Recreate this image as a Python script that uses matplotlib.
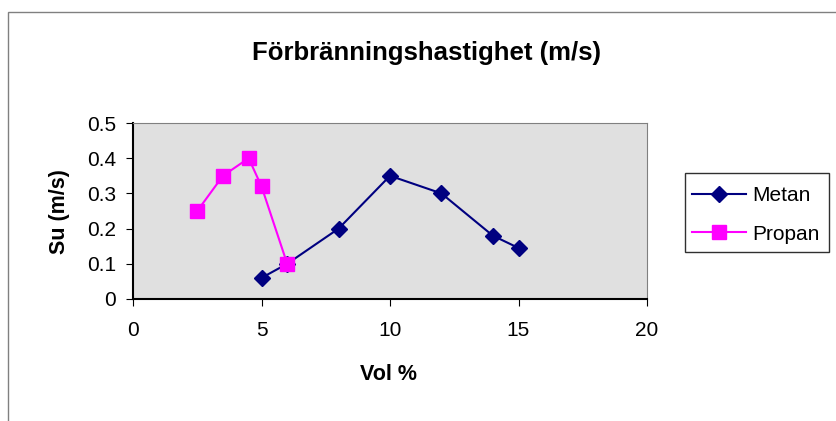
import matplotlib.pyplot as plt
from matplotlib.patches import Rectangle

plt.rcParams['font.family'] = ['Liberation Sans', 'DejaVu Sans']

# data
metan_x = [5, 6, 8, 10, 12, 14, 15]
metan_y = [0.06, 0.10, 0.20, 0.35, 0.30, 0.18, 0.145]
propan_x = [2.5, 3.5, 4.5, 5, 6]
propan_y = [0.25, 0.35, 0.40, 0.32, 0.10]

W, H = 836, 421
fig = plt.figure(figsize=(W / 100, H / 100), dpi=100)

# outer chart border
fig.patches.append(Rectangle((8 / W, -0.01), 1.0, 1 - 12 / H + 0.01, transform=fig.transFigure,
                             fill=False, edgecolor='#808080', linewidth=1.0))
# legend box, drawn by hand so the padding can differ across and down
fig.patches.append(Rectangle((685 / W, 1 - 252 / H), 144 / W, 79 / H, transform=fig.transFigure,
                             fill=False, edgecolor='#303030', linewidth=1.0))

ax = fig.add_axes([133 / W, 1 - 299 / H, (647 - 133) / W, (299 - 123) / H])
ax.set_facecolor('#E0E0E0')

ax.plot(metan_x, metan_y, color='#000080', marker='D', markersize=8, linewidth=1.5, label='Metan')
ax.plot(propan_x, propan_y, color='#FF00FF', marker='s', markersize=9.5, linewidth=1.5, label='Propan')

ax.set_xlim(0, 20)
ax.set_ylim(0, 0.5)
ax.set_xticks([0, 5, 10, 15, 20])
ax.set_yticks([0, 0.1, 0.2, 0.3, 0.4, 0.5])
ax.set_yticklabels(['0', '0.1', '0.2', '0.3', '0.4', '0.5'])
ax.tick_params(direction='out', length=5, labelsize=15, color='black')
ax.tick_params(axis='x', pad=11)
ax.tick_params(axis='y', pad=7)

for s in ['top', 'right']:
    ax.spines[s].set_color('#808080')
for s in ['left', 'bottom']:
    ax.spines[s].set_color('black')
    ax.spines[s].set_linewidth(1.5)

fig.text(427 / W, 1 - 53 / H, 'Förbränningshastighet (m/s)', ha='center', va='center',
         fontsize=18.5, fontweight='bold')
fig.text(389 / W, 1 - 374 / H, 'Vol %', ha='center', va='center', fontsize=15.5, fontweight='bold')
fig.text(60 / W, 1 - 212 / H, 'Su (m/s)', ha='center', va='center', rotation=90,
         fontsize=15.5, fontweight='bold')

leg = ax.legend(loc='upper left', bbox_to_anchor=(685 / W, 1 - 179 / H), bbox_transform=fig.transFigure,
                frameon=False, fontsize=15, handlelength=2.6, handletextpad=0.3,
                borderaxespad=0, borderpad=0.34, labelspacing=0.94)

plt.savefig('out.png', dpi=100)
